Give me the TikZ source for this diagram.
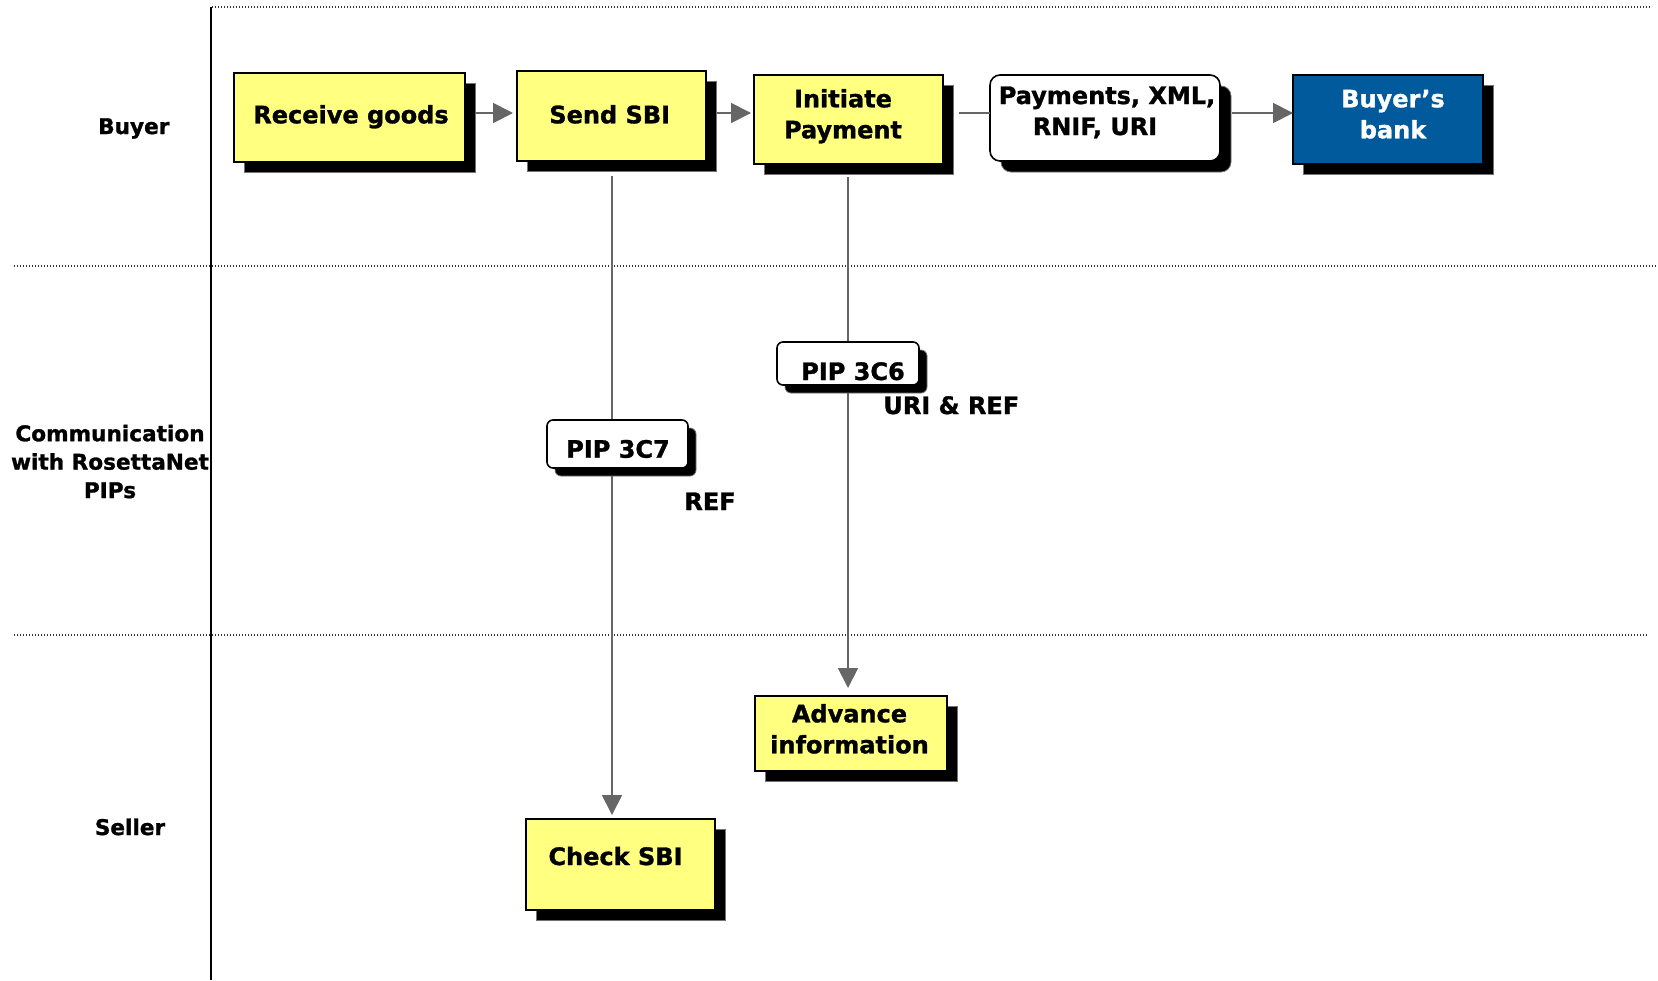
\documentclass[tikz,border=0pt]{standalone}
\usepackage{fontspec}
\setmainfont{DejaVu Sans}[BoldFeatures={FakeBold=1.2}]
\usetikzlibrary{shadows,arrows.meta}
\definecolor{boxyellow}{RGB}{255,255,128}
\definecolor{bankblue}{RGB}{0,90,156}
\definecolor{arrgray}{RGB}{102,102,102}
\tikzset{
  x={(0.5pt,0)}, y={(0,-0.5pt)},
  shad/.style={drop shadow={shadow xshift=#1, shadow yshift=-#1, fill=black, opacity=1, draw=black!55, line width=0.4pt}},
  procbox/.style={draw=black, line width=0.8pt, fill=boxyellow, inner sep=0pt, outer sep=0pt, shad=5pt},
  bankbox/.style={procbox, fill=bankblue},
  databox/.style={draw=black, line width=0.8pt, fill=white, rounded corners=5pt, inner sep=0pt, outer sep=0pt, shad=5.5pt},
  pipbox/.style={draw=black, line width=0.8pt, fill=white, rounded corners=3pt, inner sep=0pt, outer sep=0pt, shad=4pt},
  txt/.style={font=\bfseries\fontsize{12}{15.5}\selectfont, align=center, inner sep=0pt, anchor=base},
  lanetxt/.style={font=\bfseries\fontsize{10.8}{14.2}\selectfont, align=center, inner sep=0pt, anchor=base},
  arr/.style={draw=arrgray, line width=0.9pt, -{Triangle[length=10pt,width=10pt]}},
  plainline/.style={draw=arrgray, line width=0.9pt},
  dotline/.style={draw=black!80, line width=0.6pt, dash pattern=on 0.5pt off 1pt},
}
\begin{document}
\begin{tikzpicture}
\useasboundingbox (0,0) rectangle (1658,980);

% lane separators
\draw[dotline] (212,7) -- (1650,7);
\draw[dotline] (14,266) -- (1658,266);
\draw[dotline] (14,635) -- (1647,635);
\draw[line width=1pt] (211,7) -- (211,980);

% lane labels (base = baseline of the last line)
\node[lanetxt] (lbuyer) at (133.8,134) {Buyer};
\node[lanetxt] (lcomm) at (110,498) {Communication\\with RosettaNet\\PIPs};
\node[lanetxt] (lseller) at (130,835) {Seller};

% boxes
\node[procbox, minimum width=115.5pt, minimum height=44.5pt] (recv) at (349.5,117.5) {};
\node[procbox, minimum width=94.5pt, minimum height=45pt] (send) at (611.5,116) {};
\node[procbox, minimum width=94.5pt, minimum height=44.5pt] (init) at (848.5,119.5) {};
\node[databox, minimum width=115pt, minimum height=43pt] (pay) at (1105,118) {};
\node[bankbox, minimum width=95pt, minimum height=44.5pt] (bank) at (1388,119.5) {};
\node[procbox, minimum width=94.5pt, minimum height=45.5pt] (check) at (620.5,864.5) {};
\node[procbox, minimum width=96pt, minimum height=37.5pt] (adv) at (851,733.5) {};

% box texts
\node[txt] (trecv) at (351,123.3) {Receive goods};
\node[txt] (tsend) at (609.7,123.3) {Send SBI};
\node[txt] (tinit) at (843,138.3) {Initiate\\Payment};
\node[txt] (tpay) at (1107,135) {Payments, XML,\\RNIF, URI\hspace*{12pt}};
\node[txt, text=white] (tbank) at (1393,138.3) {Buyer’s\\bank};
\node[txt] (tcheck) at (615.5,865) {Check SBI};
\node[txt] (tadv) at (849.5,753.3) {Advance\\information};

% connectors
\coordinate (row) at (0,113);
\draw[arr, shorten >=2pt] (recv.east |- row) ++(10,0) -- (send.west |- row);
\draw[arr, shorten >=1.5pt] (send.east |- row) ++(11,0) -- (init.west |- row);
\draw[plainline] (init.east |- row) ++(15.5,0) -- (pay.west |- row);
\draw[arr] (pay.east |- row) ++(12,0) -- (bank.west |- row);
\draw[arr, shorten >=2pt] (send.south) ++(0.5,15) -- ([xshift=0.25pt]send.south |- check.north);
\draw[arr, shorten >=4pt] (init.south) ++(-0.5,13) -- ([xshift=-0.25pt]init.south |- adv.north);

% PIP boxes on top of the lines
\node[pipbox, minimum width=71pt, minimum height=21.5pt] (pip6) at (848,363.5) {};
\node[pipbox, minimum width=70.5pt, minimum height=24pt] (pip7) at (617.5,444) {};
\node[txt] (tpip6) at (853,380) {PIP 3C6};
\node[txt] (tpip7) at (618,457.7) {PIP 3C7};
\node[txt, anchor=base west] (turi) at (883,414) {URI \& REF};
\node[txt, anchor=base west] (tref) at (684,510) {REF};
\end{tikzpicture}
\end{document}
